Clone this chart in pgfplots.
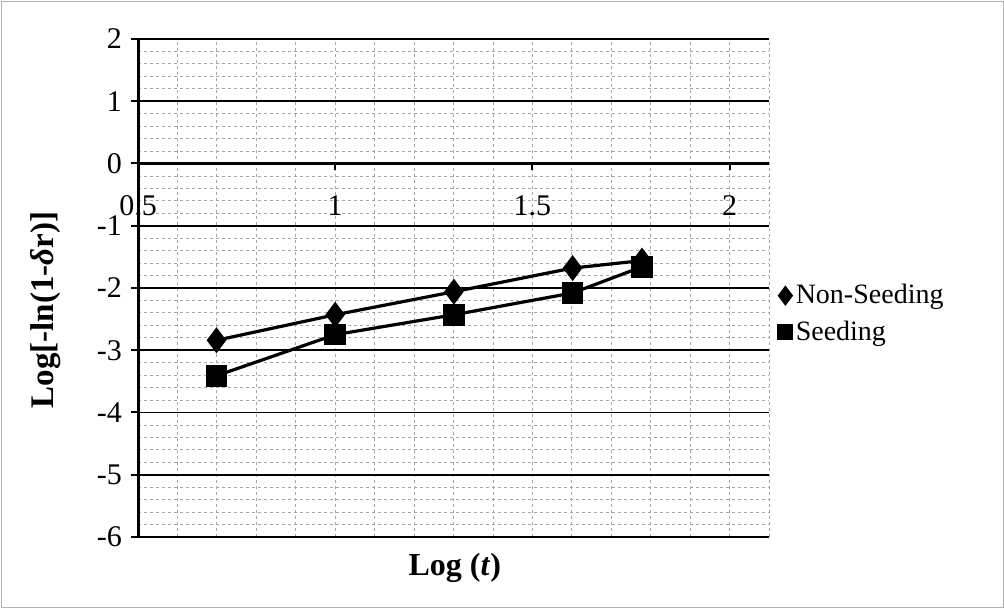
\documentclass[border=0pt]{standalone}
\usepackage{fontspec}
\setmainfont{Liberation Serif}
\usepackage{pgfplots}
\pgfplotsset{compat=1.18}
\begin{document}
\begin{tikzpicture}[x=1pt,y=1pt]
\useasboundingbox (0,0) rectangle (502,304);
\draw[gray!60, line width=0.4pt] (0.5,0.5) rectangle (501.5,303.5);
\begin{axis}[
  at={(69pt,35.5pt)}, anchor=south west,
  scale only axis, width=315.5pt, height=249pt,
  xmin=0.5, xmax=2.1, ymin=-6, ymax=2,
  axis x line=middle, axis y line=left, axis line style={-},
  x axis line style={line width=1.2pt},
  y axis line style={line width=1.5pt},
  hide obscured x ticks=false, hide obscured y ticks=false,
  xtick={0.5,1,1.5,2}, ytick={-6,-5,-4,-3,-2,-1,0,1,2},
  minor xtick={0.6,0.7,0.8,0.9,1.1,1.2,1.3,1.4,1.6,1.7,1.8,1.9,2.1},
  minor ytick={-5.8,-5.6,-5.4,-5.2,-4.8,-4.6,-4.4,-4.2,-3.8,-3.6,-3.4,-3.2,
               -2.8,-2.6,-2.4,-2.2,-1.8,-1.6,-1.4,-1.2,-0.8,-0.6,-0.4,-0.2,
               0.2,0.4,0.6,0.8,1.2,1.4,1.6,1.8},
  grid=both,
  major x grid style={gray!70, line width=0.4pt, dash pattern=on 1.5pt off 1.5pt},
  minor x grid style={gray!70, line width=0.4pt, dash pattern=on 1.5pt off 1.5pt},
  major y grid style={black, line width=0.9pt},
  minor y grid style={gray!70, line width=0.4pt, dash pattern=on 1.5pt off 1.5pt},
  tick align=outside, major tick length=3.5pt, minor tick length=0pt,
  tick style={black, line width=1pt},
  /pgf/number format/assume math mode=true,
  tick label style={font=\fontsize{15}{17}\selectfont},
  xticklabel style={yshift=-9pt},
  yticklabel style={xshift=-1pt},
  xlabel={Log (\textit{t})},
  ylabel={Log[-ln(1-\textit{δ}r)]},
  xlabel style={font=\fontsize{16}{19}\selectfont\bfseries,
    at={(axis description cs:0.502,-0.062)}, anchor=center},
  ylabel style={font=\fontsize{16.5}{19}\selectfont\bfseries,
    at={(axis description cs:-0.147,0.456)}, anchor=center},
  legend style={at={(axis description cs:1.012,0.52)}, anchor=north west,
    draw=none, fill=none, font=\fontsize{14}{17}\selectfont,
    row sep=3pt, inner sep=1pt},
  legend cell align=left,
  legend image code/.code={\draw[#1, only marks] plot coordinates {(0.12cm,0cm)};},
  clip=false,
]
\addplot[black, line width=1.6pt, mark=diamond*, mark size=5.2pt,
  mark options={solid}, legend image post style={mark size=3.8pt}]
  coordinates {(0.699,-2.84) (1,-2.43) (1.301,-2.06) (1.602,-1.68) (1.778,-1.56)};
\addlegendentry{Non-Seeding}
\addplot[black, line width=1.6pt, mark=square*, mark size=4.6pt,
  mark options={solid}, legend image post style={mark size=3.2pt}]
  coordinates {(0.699,-3.41) (1,-2.75) (1.301,-2.43) (1.602,-2.08) (1.778,-1.66)};
\addlegendentry{Seeding}
\end{axis}
\end{tikzpicture}
\end{document}
